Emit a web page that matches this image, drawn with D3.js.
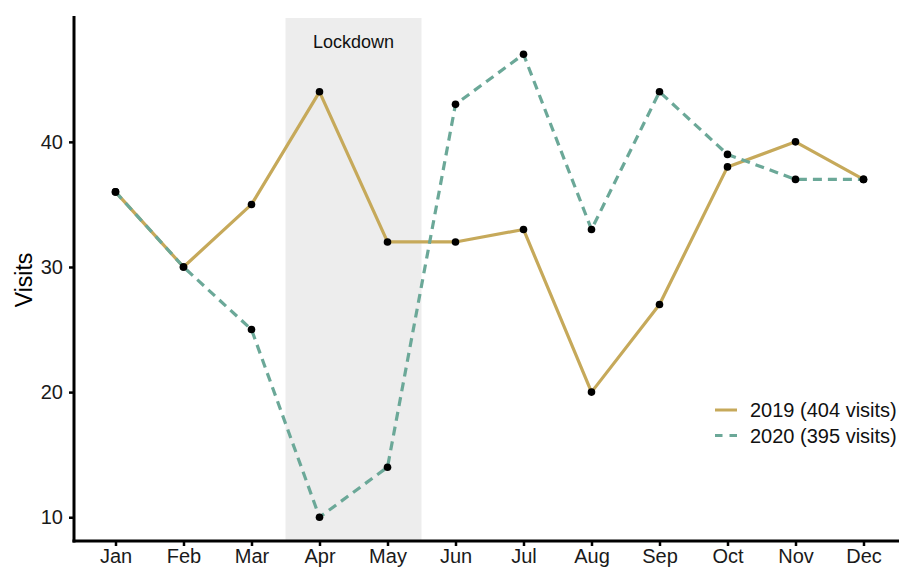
<!DOCTYPE html>
<html>
<head>
<meta charset="utf-8">
<script src="https://cdn.jsdelivr.net/npm/d3@7"></script>
<style>
  html, body { margin: 0; padding: 0; background: #fff; }
  svg { display: block; font-family: "Liberation Sans", Arial, sans-serif; }
</style>
</head>
<body>
<svg id="chart" width="899" height="569"></svg>
<script>
const months = ["Jan","Feb","Mar","Apr","May","Jun","Jul","Aug","Sep","Oct","Nov","Dec"];
const visits2019 = [36,30,35,44,32,32,33,20,27,38,40,37];
const visits2020 = [36,30,25,10,14,43,47,33,44,39,37,37];
const yTicks = [10,20,30,40];
const seriesNames = ["2019 (404 visits)", "2020 (395 visits)"];
const lockdownMonths = ["Apr","May"];
const lockdownLabel = "Lockdown";

const svg = d3.select("#chart");
const pLeft = 74, pRight = 905, pTop = 18, pBottom = 541;

const x = d3.scalePoint().domain(months).range([115.5, 863.5]);
const step = x.step();
const y = d3.scaleLinear().domain([8.1, 49.9]).range([pBottom, pTop]);

const colors = ["#C6A95A", "#6BA898"];
const dashes = [null, "9,6"];

// lockdown rect
svg.append("rect")
  .attr("x", x(lockdownMonths[0]) - step/2)
  .attr("width", x(lockdownMonths[1]) - x(lockdownMonths[0]) + step)
  .attr("y", pTop)
  .attr("height", pBottom - pTop)
  .attr("fill", "#EDEDED");

svg.append("text")
  .attr("x", (x(lockdownMonths[0]) + x(lockdownMonths[1]))/2)
  .attr("y", y(48))
  .attr("dy", "0.35em")
  .attr("text-anchor", "middle")
  .attr("font-size", 18)
  .attr("fill", "#111")
  .text(lockdownLabel);

const line = d3.line().x((d,i) => x(months[i])).y(d => y(d));
[visits2019, visits2020].forEach((vals, k) => {
  svg.append("path")
    .datum(vals)
    .attr("d", line)
    .attr("fill", "none")
    .attr("stroke", colors[k])
    .attr("stroke-width", 3.2)
    .attr("stroke-dasharray", dashes[k])
    .attr("stroke-linejoin", "round");
});
[visits2019, visits2020].forEach(vals => {
  svg.append("g").selectAll("circle")
    .data(vals)
    .join("circle")
    .attr("cx", (d,i) => x(months[i]))
    .attr("cy", d => y(d))
    .attr("r", 3.8)
    .attr("fill", "#000");
});

// axes
const yAxis = svg.append("g")
  .attr("transform", `translate(${pLeft},0)`)
  .call(d3.axisLeft(y).tickValues(yTicks).tickSize(5).tickPadding(6));
const xAxis = svg.append("g")
  .attr("transform", `translate(0,${pBottom})`)
  .call(d3.axisBottom(x).tickSize(5).tickPadding(3));
[yAxis, xAxis].forEach(g => {
  g.select(".domain").remove();
  g.selectAll(".tick line").attr("stroke", "#000").attr("stroke-width", 2.5);
  g.selectAll(".tick text").attr("font-size", 20).attr("fill", "#1a1a1a")
    .attr("font-family", "'Liberation Sans', Arial, sans-serif");
});
svg.append("line").attr("x1", pLeft).attr("x2", pLeft).attr("y1", pTop - 2).attr("y2", pBottom + 1.5)
  .attr("stroke", "#000").attr("stroke-width", 3);
svg.append("line").attr("x1", pLeft - 1.5).attr("x2", pRight).attr("y1", pBottom).attr("y2", pBottom)
  .attr("stroke", "#000").attr("stroke-width", 3);

svg.append("text")
  .attr("transform", `translate(32,280) rotate(-90)`)
  .attr("text-anchor", "middle")
  .attr("font-size", 23)
  .attr("fill", "#000")
  .text("Visits");

// legend
const legend = svg.append("g");
seriesNames.forEach((name, k) => {
  const ly = 410 + k * 25.5;
  legend.append("line")
    .attr("x1", 715).attr("x2", 737).attr("y1", ly).attr("y2", ly)
    .attr("stroke", colors[k]).attr("stroke-width", 3)
    .attr("stroke-dasharray", k === 1 ? "7.5,7" : null);
  legend.append("text")
    .attr("x", 750).attr("y", ly).attr("dy", "0.35em")
    .attr("font-size", 20).attr("fill", "#111")
    .text(name);
});
</script>
</body>
</html>
